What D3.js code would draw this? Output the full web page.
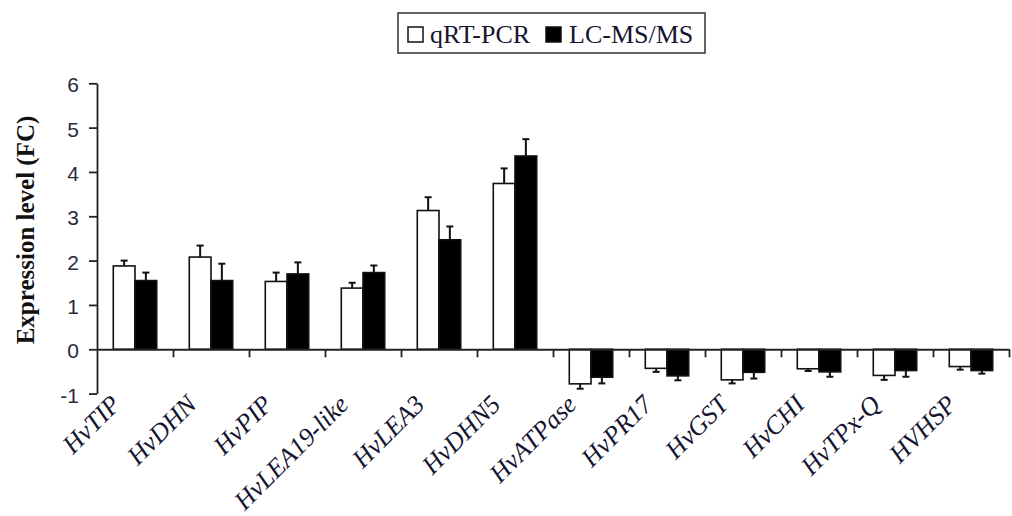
<!DOCTYPE html>
<html>
<head>
<meta charset="utf-8">
<title>Expression level</title>
<script src="https://cdn.jsdelivr.net/npm/d3@7"></script>
<style>
  body { margin: 0; background: #fff; }
</style>
</head>
<body>
<div id="chart"></div>
<script>
var genes = ["HvTIP", "HvDHN", "HvPIP", "HvLEA19-like", "HvLEA3", "HvDHN5",
             "HvATPase", "HvPR17", "HvGST", "HvCHI", "HvTPx-Q", "HVHSP"];
var series = ["qRT-PCR", "LC-MS/MS"];
var qrtValues = [1.88, 2.08, 1.53, 1.38, 3.13, 3.74, -0.78, -0.43, -0.69, -0.44, -0.59, -0.39];
var qrtErrors = [0.12, 0.26, 0.20, 0.12, 0.30, 0.34, 0.11, 0.08, 0.08, 0.05, 0.10, 0.07];
var lcValues = [1.55, 1.55, 1.70, 1.73, 2.47, 4.36, -0.63, -0.60, -0.52, -0.51, -0.48, -0.48];
var lcErrors = [0.18, 0.38, 0.26, 0.16, 0.30, 0.38, 0.14, 0.10, 0.14, 0.11, 0.14, 0.07];
var yTicks = [-1, 0, 1, 2, 3, 4, 5, 6];

function main() {
  var width = 1012, height = 516;
  var left = 97, right = 1009, top = 83.3, bottom = 393.6;

  var svg = d3.select("#chart").append("svg")
    .attr("width", width)
    .attr("height", height);

  var x = d3.scaleBand().domain(genes).range([left, right]);
  var x1 = d3.scaleBand().domain(series).range([0, x.bandwidth()])
    .paddingInner(0).paddingOuter(0.75);
  var y = d3.scaleLinear().domain([-1, 6]).range([bottom, top]);
  var colors = { "qRT-PCR": "#fff", "LC-MS/MS": "#000" };

  var rows = [];
  genes.forEach(function(g, i) {
    rows.push({ gene: g, s: "qRT-PCR", v: qrtValues[i], e: qrtErrors[i] });
    rows.push({ gene: g, s: "LC-MS/MS", v: lcValues[i], e: lcErrors[i] });
  });

  // error bars (one-sided, away from zero)
  var err = svg.append("g").attr("stroke", "#111").attr("stroke-width", 2);
  rows.forEach(function(d) {
    var cx = x(d.gene) + x1(d.s) + x1.bandwidth() / 2;
    var tip = d.v >= 0 ? d.v + d.e : d.v - d.e;
    err.append("line").attr("x1", cx).attr("x2", cx)
      .attr("y1", y(d.v)).attr("y2", y(tip));
    err.append("line").attr("x1", cx - 3.5).attr("x2", cx + 3.5)
      .attr("y1", y(tip)).attr("y2", y(tip));
  });

  // bars
  svg.append("g").selectAll("rect")
    .data(rows)
    .enter().append("rect")
    .attr("x", function(d) { return x(d.gene) + x1(d.s); })
    .attr("width", x1.bandwidth())
    .attr("y", function(d) { return y(Math.max(0, d.v)); })
    .attr("height", function(d) { return Math.abs(y(d.v) - y(0)); })
    .attr("fill", function(d) { return colors[d.s]; })
    .attr("stroke", "#111")
    .attr("stroke-width", 1.6);

  // y axis
  var yAxis = svg.append("g")
    .attr("transform", "translate(" + left + ",0)")
    .call(d3.axisLeft(y).tickValues(yTicks).tickFormat(function(d) { return String(d); })
      .tickSize(8).tickSizeOuter(0).tickPadding(10));
  yAxis.select(".domain").attr("stroke", "#222").attr("stroke-width", 1.8);
  yAxis.selectAll(".tick line").attr("stroke", "#222").attr("stroke-width", 1.8);
  yAxis.selectAll(".tick text")
    .attr("font-family", "Liberation Sans, Arial, sans-serif")
    .attr("font-size", 21)
    .attr("dy", "0.4em")
    .attr("fill", "#2a2a3a");

  // x axis along zero, ticks between categories
  var xb = d3.scaleLinear().domain([0, genes.length]).range([left, right]);
  var xAxis = svg.append("g")
    .attr("transform", "translate(0," + y(0) + ")")
    .call(d3.axisBottom(xb).tickValues(d3.range(1, genes.length + 1))
      .tickFormat("").tickSize(8).tickSizeOuter(0));
  xAxis.select(".domain").attr("stroke", "#222").attr("stroke-width", 1.8);
  xAxis.selectAll(".tick line").attr("stroke", "#222").attr("stroke-width", 1.8);

  // category labels
  svg.append("g").selectAll("text")
    .data(genes)
    .enter().append("text")
    .attr("transform", function(d) {
      return "translate(" + (x(d) + x.bandwidth() / 2 - 13) + ",406) rotate(-45)";
    })
    .attr("text-anchor", "end")
    .attr("font-family", "Liberation Serif, Times New Roman, serif")
    .attr("font-style", "italic")
    .attr("font-size", 26)
    .attr("fill", "#151530")
    .text(function(d) { return d; });

  // y title
  svg.append("text")
    .attr("transform", "translate(34,230) rotate(-90)")
    .attr("text-anchor", "middle")
    .attr("font-family", "Liberation Serif, Times New Roman, serif")
    .attr("font-weight", "bold")
    .attr("font-size", 25)
    .attr("fill", "#111")
    .text("Expression level (FC)");

  // legend
  var lg = svg.append("g");
  lg.append("rect").attr("x", 398).attr("y", 13).attr("width", 307).attr("height", 40)
    .attr("fill", "#fff").attr("stroke", "#333").attr("stroke-width", 1.5);
  var lx = [408, 546], tx = [430, 569];
  series.forEach(function(s, i) {
    lg.append("rect").attr("x", lx[i]).attr("y", 27).attr("width", 15).attr("height", 15)
      .attr("fill", colors[s]).attr("stroke", "#111").attr("stroke-width", 1.5);
    lg.append("text").attr("x", tx[i]).attr("y", 43)
      .attr("font-family", "Liberation Serif, Times New Roman, serif")
      .attr("font-size", 26)
      .attr("fill", "#151530")
      .text(s);
  });
}

window.onload = main;
</script>
</body>
</html>
